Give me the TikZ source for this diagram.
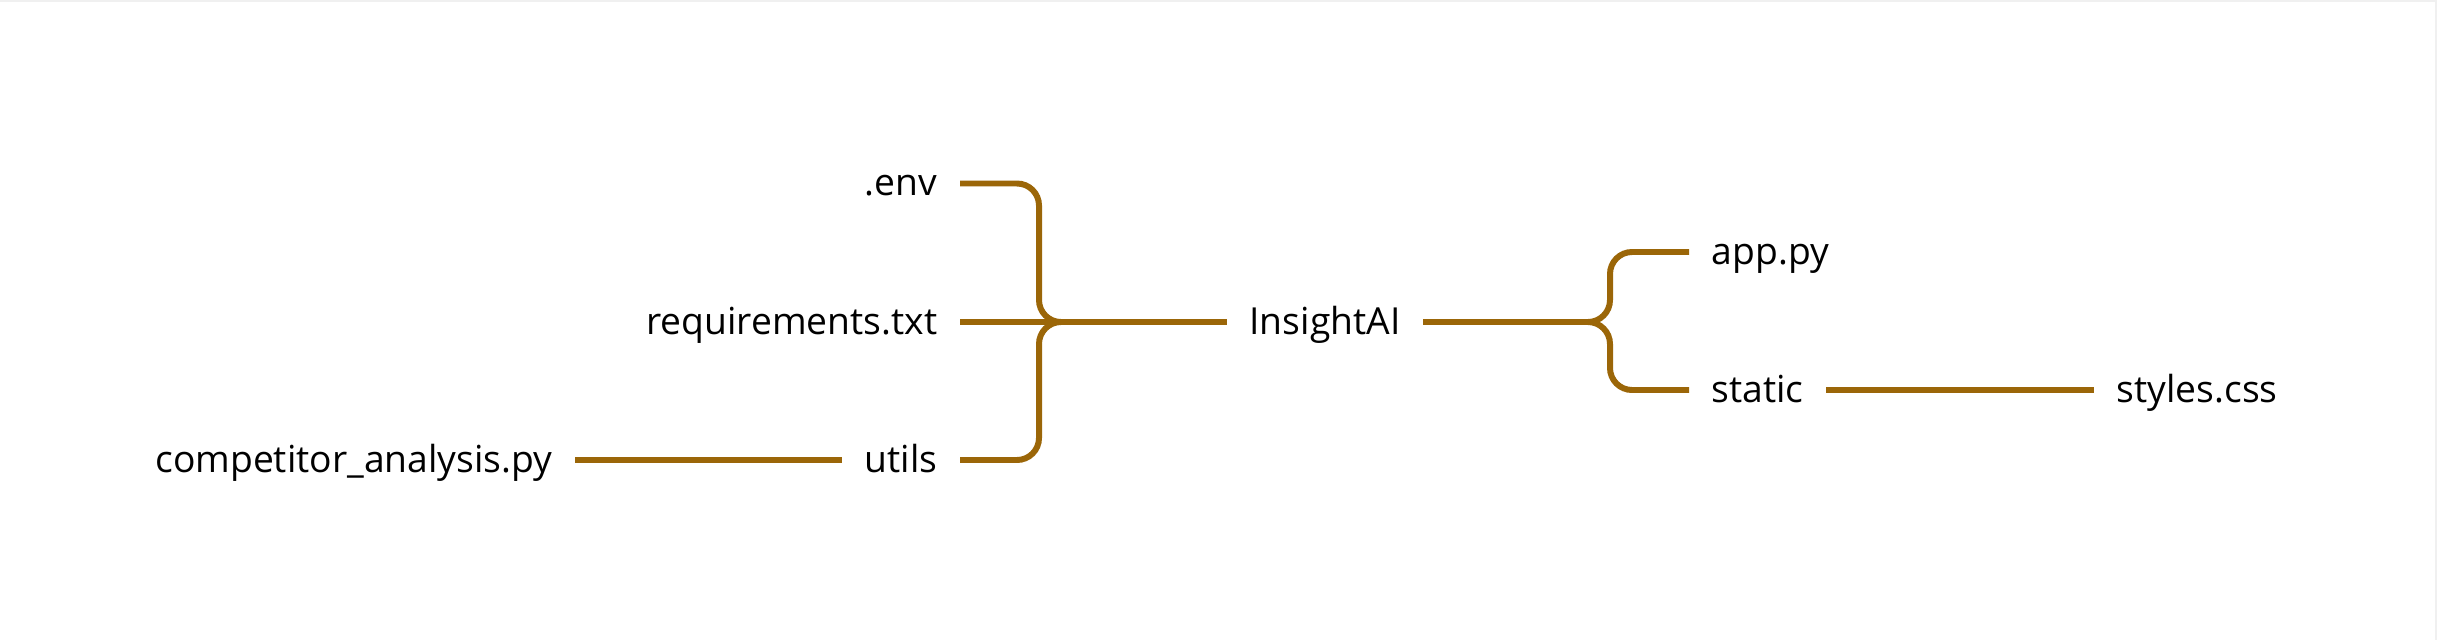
\documentclass[tikz,border=0pt]{standalone}
\usepackage{fontspec}
\setmainfont{Open Sans}
\usetikzlibrary{calc}
\definecolor{branch}{RGB}{155,102,8}
\tikzset{
  item/.style={inner xsep=0.22cm, inner ysep=0pt, text height=0.85em, text depth=0.15em, font=\fontsize{10.6}{12}\selectfont},
  branchline/.style={branch, line width=1.7pt, rounded corners=0.22cm}
}

\begin{document}
\begin{tikzpicture}
\useasboundingbox (0,0) rectangle (24.39,6.40);
\draw[gray!12, line width=0.6pt] (0,6.39) -- (24.36,6.39) -- (24.36,0);
% left side
\node[item, anchor=east] (env) at (9.60,4.565) {.env};
\node[item, anchor=east] (req) at (9.60,3.18) {requirements.txt};
\node[item, anchor=east] (utils) at (9.60,1.80) {utils};
\node[item, anchor=east] (comp) at (5.75,1.80) {competitor\_analysis.py};
% root
\node[item] (root) at (13.25,3.18) {InsightAI};
% right side
\node[item, anchor=west] (app) at (16.89,3.88) {app.py};
\node[item, anchor=west] (static) at (16.89,2.50) {static};
\node[item, anchor=west] (css) at (20.94,2.50) {styles.css};
\coordinate (lsplit) at (10.39,3.18);
\coordinate (rsplit) at (16.10,3.18);
\draw[branchline] (env.east) -| (lsplit) -- (root.west);
\draw[branchline] (utils.east) -| (lsplit) -- (root.west);
\draw[branchline] (req.east) -- (root.west);
\draw[branchline] (comp.east) -- (utils.west);
\draw[branchline] (root.east) -- (rsplit) |- (app.west);
\draw[branchline] (root.east) -- (rsplit) |- (static.west);
\draw[branchline] (static.east) -- (css.west);
\end{tikzpicture}
\end{document}
